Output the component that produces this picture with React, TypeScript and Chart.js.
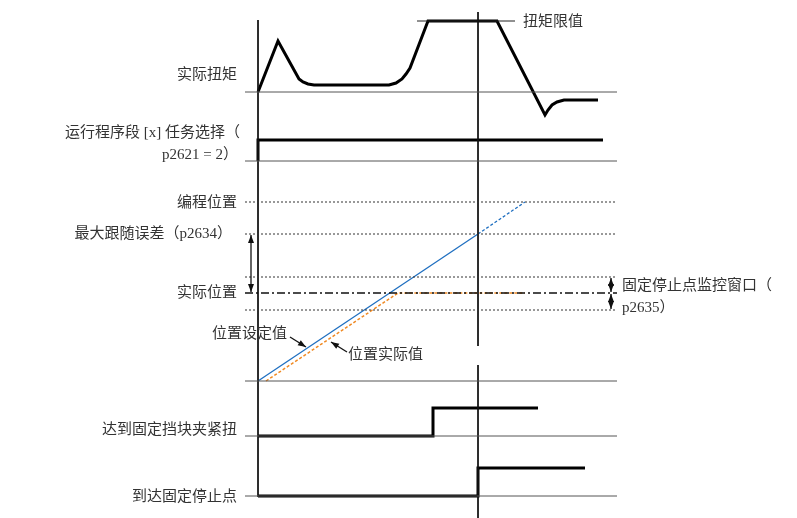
import React, { useEffect, useRef } from "react";
import { Chart, registerables } from "chart.js";
Chart.register(...registerables);

// Time axis (x) and signal level (y) in diagram units
const xStart = 245;
const xEnd = 617;
const t0 = 258; // start of motion
const t1 = 478; // fixed stop reached

const torqueX = [258, 278, 299, 303, 308, 314, 389, 396, 402, 406, 410, 428, 497, 545, 548, 552, 557, 564, 598];
const torqueY = [92, 41, 79, 82, 84, 85, 85, 83, 79, 74, 68, 21, 21, 115, 110, 105, 102, 100, 100];
const torqueLimitX = [417, 515];
const torqueLimitY = [21, 21];

const taskX = [258, 258, 603];
const taskY = [161, 140, 140];

const setpointX = [258, 478];
const setpointY = [381, 234];
const setpointExtX = [478, 525];
const setpointExtY = [234, 202];
const actualX = [266, 398, 525];
const actualY = [381, 293, 293];

const clampX = [258, 433, 433, 538];
const clampY = [436, 436, 408, 408];
const stopX = [258, 478, 478, 585];
const stopY = [496, 496, 468, 468];

const solidBaselines = [92, 161, 381, 436, 496];
const dottedLevels = [202, 234, 277, 310];
const actualPosLevel = 293;

const leftLabels = ["实际扭矩", "运行程序段 [x] 任务选择（", "p2621 = 2）", "编程位置", "最大跟随误差（p2634）", "实际位置", "达到固定挡块夹紧扭", "到达固定停止点"];
const leftLabelY = [75, 133, 155, 203, 234, 293, 430, 497];
const leftLabelRight = [237, 240, 238, 237, 232, 237, 237, 237];

const toPts = (xs: number[], ys: number[]) => xs.map((x, i) => ({ x, y: ys[i] }));

export default function App() {
  const ref = useRef<HTMLCanvasElement>(null);
  useEffect(() => {
    if (!ref.current) return;
    const ds: any[] = [];
    const line = (pts: any[], color: string, width: number, dash: number[] = []) =>
      ds.push({ data: pts, borderColor: color, borderWidth: width, borderDash: dash, pointRadius: 0, tension: 0, fill: false });

    solidBaselines.forEach((y) => line([{ x: xStart, y }, { x: xEnd, y }], "#555", 1));
    dottedLevels.forEach((y) => line([{ x: xStart, y }, { x: xEnd, y }], "#333", 1, [2, 2]));
    line([{ x: xStart, y: actualPosLevel }, { x: xEnd, y: actualPosLevel }], "#111", 1.3, [8, 3, 2, 3]);
    line([{ x: t0, y: 20 }, { x: t0, y: 497 }], "#111", 1);
    line([{ x: t1, y: 12 }, { x: t1, y: 346 }], "#111", 1);
    line([{ x: t1, y: 365 }, { x: t1, y: 518 }], "#111", 1);

    line(toPts(torqueLimitX, torqueLimitY), "#222", 1);
    line(toPts(torqueX, torqueY), "#000", 3);
    line(toPts(taskX, taskY), "#000", 3);
    line(toPts(actualX, actualY), "#f08a24", 1.5, [3, 2]);
    line(toPts(setpointX, setpointY), "#1f6fc0", 1.3);
    line(toPts(setpointExtX, setpointExtY), "#1f6fc0", 1.3, [3, 2]);
    line(toPts(clampX, clampY), "#000", 3);
    line(toPts(stopX, stopY), "#000", 3);

    const textPlugin = {
      id: "texts",
      afterDatasetsDraw(chart: any) {
        const { ctx, scales } = chart;
        const X = (v: number) => scales.x.getPixelForValue(v);
        const Y = (v: number) => scales.y.getPixelForValue(v);
        ctx.save();
        ctx.fillStyle = "#333";
        ctx.font = '15px "Liberation Serif", "Noto Sans CJK SC"';
        ctx.textBaseline = "middle";
        ctx.textAlign = "right";
        leftLabels.forEach((t, i) => ctx.fillText(t, X(leftLabelRight[i]), Y(leftLabelY[i])));
        ctx.textAlign = "left";
        ctx.fillText("扭矩限值", X(523), Y(22));
        ctx.fillText("固定停止点监控窗口（", X(622), Y(286));
        ctx.fillText("p2635）", X(622), Y(308));
        ctx.fillText("位置设定值", X(212), Y(334));
        ctx.fillText("位置实际值", X(348), Y(355));

        const head = (x1: number, y1: number, x2: number, y2: number, len = 8, w = 3) => {
          const a = Math.atan2(Y(y2) - Y(y1), X(x2) - X(x1));
          const px = X(x2), py = Y(y2);
          ctx.beginPath();
          ctx.moveTo(px, py);
          ctx.lineTo(px - len * Math.cos(a) + w * Math.sin(a), py - len * Math.sin(a) - w * Math.cos(a));
          ctx.lineTo(px - len * Math.cos(a) - w * Math.sin(a), py - len * Math.sin(a) + w * Math.cos(a));
          ctx.closePath();
          ctx.fill();
        };
        const arrow = (x1: number, y1: number, x2: number, y2: number, both: boolean) => {
          ctx.beginPath();
          ctx.moveTo(X(x1), Y(y1));
          ctx.lineTo(X(x2), Y(y2));
          ctx.stroke();
          head(x1, y1, x2, y2);
          if (both) head(x2, y2, x1, y1);
        };
        ctx.strokeStyle = "#111";
        ctx.fillStyle = "#111";
        ctx.lineWidth = 1.3;
        arrow(251, 235, 251, 292, true);
        arrow(611, 278, 611, 292, true);
        arrow(611, 294, 611, 309, true);
        arrow(290, 337, 306, 347, false);
        arrow(347, 352, 331, 342, false);
        ctx.restore();
      },
    };

    const chart = new Chart(ref.current, {
      type: "line",
      data: { datasets: ds },
      options: {
        animation: false,
        responsive: false,
        events: [],
        layout: { padding: 0 },
        plugins: { legend: { display: false }, tooltip: { enabled: false } },
        scales: {
          x: { type: "linear", min: 0, max: 797, display: false },
          y: { type: "linear", min: 0, max: 518, reverse: true, display: false },
        },
      },
      plugins: [textPlugin],
    });
    return () => chart.destroy();
  }, []);
  return (
    <div style={{ position: "fixed", left: 0, top: 0, width: 797, height: 518, background: "#fff" }}>
      <canvas ref={ref} width={797} height={518} style={{ width: 797, height: 518, display: "block" }} />
    </div>
  );
}
